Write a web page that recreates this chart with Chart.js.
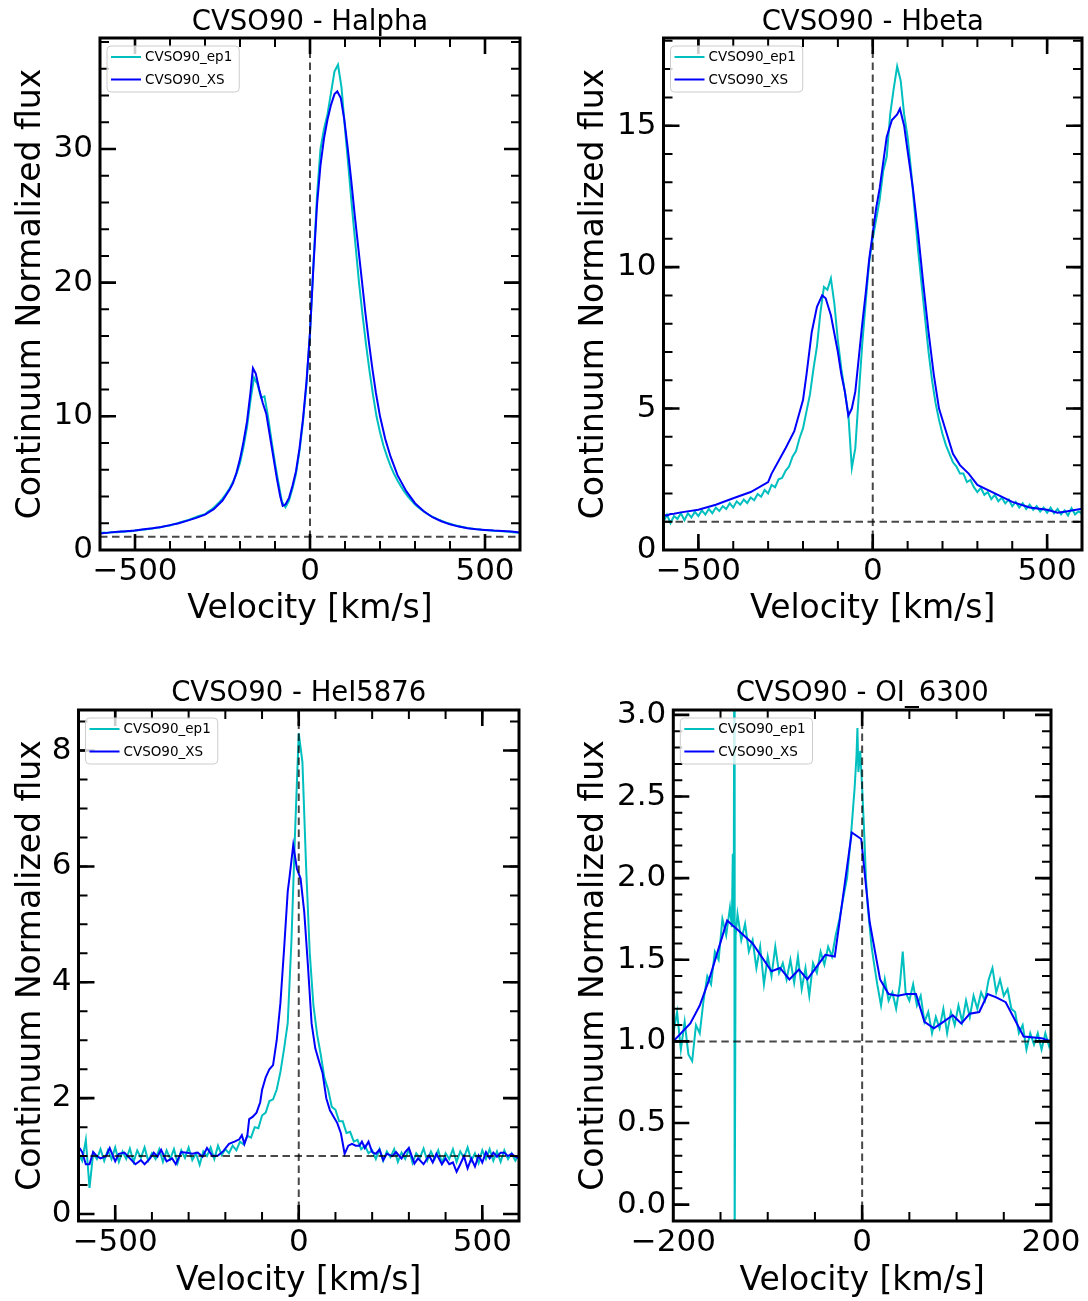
<!DOCTYPE html>
<html><head><meta charset="utf-8">
<script src="https://cdn.jsdelivr.net/npm/chart.js@4/dist/chart.umd.min.js"></script>
<style>
html,body{margin:0;padding:0;background:#fff;}
#wrap{position:relative;width:1088px;height:1301px;background:#fff;}
canvas{position:absolute;}
</style></head>
<body><div id="wrap">
<canvas id="c0" width="544" height="650" style="left:0;top:0;width:544px;height:650px"></canvas>
<canvas id="c1" width="544" height="650" style="left:544px;top:0;width:544px;height:650px"></canvas>
<canvas id="c2" width="544" height="651" style="left:0;top:650px;width:544px;height:651px"></canvas>
<canvas id="c3" width="544" height="651" style="left:544px;top:650px;width:544px;height:651px"></canvas>
</div>
<script>
// ---------------- DATA ----------------
const seriesLabels = ['CVSO90_ep1', 'CVSO90_XS'];
const panelTitles = ['CVSO90 - Halpha', 'CVSO90 - Hbeta', 'CVSO90 - HeI5876', 'CVSO90 - OI_6300'];
const xAxisLabel = 'Velocity [km/s]';
const yAxisLabel = 'Continuum Normalized flux';
const refVelocity = 0;
const refFlux = 1;

// common 10 km/s grid of the ep1 spectra (Halpha, Hbeta, HeI)
const grid10Vel = [
 -600,-590,-580,-570,-560,-550,-540,-530,-520,-510,
 -500,-490,-480,-470,-460,-450,-440,-430,-420,-410,
 -400,-390,-380,-370,-360,-350,-340,-330,-320,-310,
 -300,-290,-280,-270,-260,-250,-240,-230,-220,-210,
 -200,-190,-180,-170,-160,-150,-140,-130,-120,-110,
 -100,-90,-80,-70,-60,-50,-40,-30,-20,-10,
 0,10,20,30,40,50,60,70,80,90,
 100,110,120,130,140,150,160,170,180,190,
 200,210,220,230,240,250,260,270,280,290,
 300,310,320,330,340,350,360,370,380,390,
 400,410,420,430,440,450,460,470,480,490,
 500,510,520,530,540,550,560,570,580,590,
 600];

// Halpha
const haEp1Flux = [
 1.25,1.30,1.28,1.32,1.34,1.33,1.38,1.36,1.42,1.40,
 1.46,1.47,1.52,1.53,1.58,1.60,1.66,1.68,1.75,1.80,
 1.84,1.92,1.98,2.08,2.15,2.22,2.32,2.42,2.52,2.60,
 2.68,2.90,3.05,3.30,3.55,3.85,4.20,4.60,5.10,5.70,
 6.50,7.70,9.20,11.2,12.9,12.4,11.4,11.5,10.0,8.20,
 6.50,5.00,3.60,3.20,3.70,4.60,5.70,7.40,9.60,12.4,
 16.2,21.5,26.5,30.0,31.5,32.6,34.2,35.8,36.3,34.6,
 31.5,28.6,25.6,22.8,20.0,17.6,15.4,13.4,11.6,10.0,
 8.80,7.80,7.00,6.30,5.70,5.20,4.75,4.35,4.00,3.70,
 3.40,3.18,2.98,2.80,2.62,2.48,2.36,2.24,2.14,2.04,
 1.96,1.88,1.82,1.76,1.70,1.65,1.61,1.58,1.55,1.52,
 1.50,1.47,1.45,1.43,1.42,1.40,1.38,1.37,1.33,1.30,
 1.28];
const haXsVel = [
 -600,-575,-550,-525,-500,-475,-450,-425,-400,-375,
 -350,-325,-300,-275,-250,-230,-220,-210,-200,-190,
 -180,-170,-163,-155,-145,-135,-125,-115,-105,-95,
 -85,-78,-70,-60,-50,-40,-30,-20,-10,0,
 10,20,30,40,50,60,70,78,88,98,
 108,118,128,138,148,158,168,178,188,200,
 215,230,250,275,300,325,350,375,400,425,
 450,475,500,525,550,575,600];
const haXsFlux = [
 1.24,1.30,1.36,1.41,1.46,1.55,1.62,1.72,1.86,2.00,
 2.20,2.40,2.65,3.05,3.70,4.50,5.00,5.80,6.80,8.10,
 9.60,11.8,13.6,13.2,12.0,11.0,10.2,8.60,7.00,5.40,
 4.00,3.30,3.40,3.90,4.80,5.90,7.60,9.80,12.6,16.3,
 21.3,25.8,28.8,30.8,32.2,33.3,34.1,34.3,33.8,32.2,
 30.0,27.6,25.0,22.6,20.2,17.8,15.6,13.6,11.8,10.0,
 8.30,7.00,5.60,4.40,3.50,2.90,2.45,2.15,1.92,1.75,
 1.62,1.55,1.50,1.45,1.42,1.38,1.30];

// Hbeta
const hbEp1Flux = [
 1.00,1.25,0.95,1.20,1.10,1.30,1.05,1.30,1.15,1.35,
 1.20,1.40,1.25,1.45,1.30,1.50,1.38,1.55,1.45,1.65,
 1.50,1.72,1.60,1.78,1.66,1.86,1.76,1.98,1.88,2.12,
 2.00,2.30,2.22,2.50,2.55,2.80,2.95,3.30,3.50,3.95,
 4.30,4.90,5.50,6.40,7.20,8.40,9.30,9.20,9.60,8.70,
 7.40,6.40,5.60,4.80,2.90,3.60,5.50,7.30,8.80,10.2,
 11.0,11.7,12.4,13.4,13.9,15.4,16.3,17.1,16.6,15.4,
 14.6,13.4,12.0,10.6,9.40,8.20,7.00,6.00,5.20,4.60,
 4.10,3.70,3.40,3.10,2.95,2.70,2.70,2.40,2.48,2.22,
 2.05,2.20,1.95,2.05,1.80,1.95,1.72,1.85,1.65,1.78,
 1.55,1.70,1.50,1.65,1.45,1.60,1.42,1.55,1.36,1.50,
 1.32,1.50,1.30,1.45,1.26,1.40,1.22,1.48,1.26,1.36,
 1.30];
const hbXsVel = [
 -600,-590,-580,-570,-550,-500,-450,-400,-350,-300,
 -290,-250,-225,-200,-190,-175,-160,-145,-135,-120,
 -100,-90,-80,-70,-60,-50,-40,-30,-20,-10,
 0,10,20,30,40,55,70,78,90,100,
 115,130,145,160,175,190,210,230,250,275,
 300,350,400,450,500,530,550,600];
const hbXsFlux = [
 1.24,1.22,1.27,1.28,1.33,1.42,1.60,1.83,2.05,2.40,
 2.70,3.60,4.20,5.30,6.20,7.70,8.60,9.00,8.90,8.30,
 7.00,6.20,5.60,4.75,5.00,5.60,6.80,8.00,9.10,10.3,
 11.2,12.1,12.8,13.7,14.6,15.2,15.4,15.6,15.0,14.1,
 12.8,11.2,9.40,7.70,6.20,5.00,4.20,3.40,3.00,2.70,
 2.30,2.00,1.70,1.50,1.42,1.32,1.35,1.46];

// HeI 5876
const heEp1Flux = [
 1.05,0.92,1.28,0.45,1.05,0.95,1.12,0.92,1.10,0.95,
 1.15,0.90,1.08,0.95,1.13,0.90,1.10,0.97,1.15,0.92,
 1.05,0.95,1.12,0.90,1.10,0.95,1.12,0.88,1.10,0.97,
 1.15,0.93,1.05,0.85,1.08,1.00,1.15,0.95,1.18,1.02,
 1.12,1.05,1.18,1.10,1.25,1.20,1.35,1.32,1.50,1.48,
 1.70,1.75,1.95,1.98,2.15,2.45,2.85,3.30,4.70,6.60,
 8.30,7.80,6.00,4.50,3.60,3.10,2.75,2.35,2.15,1.85,
 1.80,1.60,1.60,1.40,1.42,1.25,1.28,1.12,1.18,1.05,
 1.10,0.95,1.12,0.92,1.08,0.98,1.12,0.90,1.06,0.95,
 1.12,0.88,1.05,0.97,1.13,0.92,1.08,0.95,1.10,0.88,
 1.05,0.95,1.12,0.90,1.08,0.97,1.15,0.92,1.05,0.88,
 1.10,0.95,1.12,0.92,1.08,0.90,1.10,0.95,1.05,0.92,
 1.02];
const heXsVel = [
 -597,-590,-580,-570,-560,-550,-540,-525,-515,-500,
 -490,-475,-460,-445,-430,-420,-405,-395,-385,-375,
 -360,-345,-335,-320,-305,-290,-275,-262,-250,-235,
 -220,-205,-190,-175,-162,-155,-148,-140,-135,-125,
 -115,-105,-100,-90,-80,-70,-60,-50,-40,-30,
 -25,-15,-5,5,15,25,35,45,55,65,
 75,85,95,105,115,125,135,145,155,165,
 172,180,190,200,210,220,230,240,255,265,
 280,290,300,315,325,340,355,365,375,390,
 400,410,420,430,440,450,460,470,480,490,
 500,510,520,530,540,550,560,570,580,590,
 598];
const heXsFlux = [
 1.14,1.07,0.86,0.86,1.07,1.00,0.96,1.00,1.14,0.91,
 1.04,1.06,0.96,0.86,0.93,0.86,0.96,1.06,0.99,1.11,
 0.91,0.96,0.86,1.07,1.06,1.04,1.06,0.99,1.14,1.00,
 1.01,1.09,1.21,1.25,1.29,1.36,1.21,1.36,1.64,1.68,
 1.75,1.93,2.14,2.36,2.50,2.57,3.00,3.64,4.57,5.57,
 5.82,6.37,5.96,5.79,5.21,4.29,3.29,2.86,2.64,2.43,
 2.00,1.79,1.68,1.57,1.39,1.04,1.18,1.21,1.18,1.18,
 1.25,1.14,1.25,1.07,1.04,1.11,0.93,1.04,1.00,1.07,
 0.96,1.07,1.14,0.87,0.96,0.86,1.01,0.89,1.04,0.86,
 0.96,0.86,0.89,0.73,0.86,1.00,0.79,0.96,0.82,1.01,
 0.89,1.07,0.96,1.06,0.99,1.06,1.06,1.00,1.04,0.99,
 0.97];

// OI 6300
const oiEp1Vel = [
 -200,-196,-192,-188,-184,-180,-176,-172,-168,-164,
 -160,-156,-152,-148,-144,-140,-138,-137,-136,-135.5,
 -135,-134,-132,-128,-124,-120,-116,-112,-108,-104,
 -100,-96,-92,-88,-84,-80,-76,-72,-68,-64,
 -60,-56,-52,-48,-44,-40,-36,-32,-28,-24,
 -20,-16,-12,-10,-8,-6,-5,-4,-2,0,
 2,4,6,8,10,12,16,20,24,28,
 32,36,40,43,46,50,54,58,62,66,
 70,74,78,82,86,90,94,98,102,106,
 110,114,118,122,126,130,134,138,142,146,
 150,154,158,162,166,170,174,178,182,186,
 190,194,198,200];
const oiEp1Flux = [
 1.05,1.18,0.95,1.12,0.92,0.88,1.10,1.05,1.25,1.40,
 1.35,1.55,1.50,1.75,1.65,1.82,1.70,2.15,1.72,3.40,
 -0.30,1.65,1.78,1.62,1.72,1.55,1.62,1.45,1.58,1.35,
 1.52,1.40,1.58,1.42,1.48,1.38,1.50,1.36,1.52,1.32,
 1.45,1.28,1.48,1.42,1.55,1.47,1.58,1.52,1.65,1.75,
 1.88,2.00,2.25,2.40,2.55,2.75,2.92,2.65,2.78,2.55,
 2.30,2.00,1.82,1.70,1.58,1.50,1.35,1.22,1.38,1.25,
 1.30,1.20,1.35,1.55,1.30,1.25,1.35,1.22,1.28,1.12,
 1.18,1.05,1.15,1.08,1.20,1.05,1.18,1.10,1.22,1.12,
 1.25,1.15,1.28,1.20,1.30,1.25,1.38,1.45,1.30,1.38,
 1.28,1.32,1.20,1.18,1.05,1.10,0.95,1.05,0.98,1.05,
 0.95,1.05,0.97,1.02];
const oiXsVel = [
 -200,-182,-172,-162,-143,-131,-116,-96,-87,-77,
 -67,-58,-39,-29,-11,-1,8,19,28,38,
 47,57,66,76,86,96,105,114,124,133,
 142,152,171,190,200];
const oiXsFlux = [
 1.00,1.11,1.22,1.38,1.74,1.68,1.60,1.43,1.45,1.38,
 1.44,1.38,1.53,1.52,2.28,2.24,1.73,1.38,1.29,1.28,
 1.29,1.29,1.12,1.08,1.12,1.16,1.11,1.17,1.18,1.29,
 1.27,1.24,1.03,1.02,1.00];

// axis limits and tick labels
const xLimits = [[-600, 600], [-600, 600], [-600, 600], [-200, 200]];
const yLimits = [[0, 38.3], [0, 18.1], [-0.12, 8.7], [-0.1, 3.03]];
const xMajorTicks = [[-500, 0, 500], [-500, 0, 500], [-500, 0, 500], [-200, 0, 200]];
const xMinorStep = [100, 100, 100, 50];
const yMajorTicks = [[0, 10, 20, 30], [0, 5, 10, 15], [0, 2, 4, 6, 8], [0, 0.5, 1, 1.5, 2, 2.5, 3]];
const yMinorStep = [2, 1, 0.5, 0.1];
const yDecimals = [0, 0, 0, 1];

// ---------------- STYLE / LAYOUT ----------------
const FONT = "'DejaVu Sans', 'Liberation Sans', sans-serif";
const CYAN = '#00BFBF', BLUE = '#0000FF', DASH = 'rgba(0,0,0,0.72)';
const panels = [
  {id: 'c0', area: {l: 100, r: 520, b: 550}, titlePad: {top: 9.25, bottom: 1.25}, yTitlePad: 12, xTitlePad: 21},
  {id: 'c1', area: {l: 119.5, r: 538, b: 550}, titlePad: {top: 9.25, bottom: 1.25}, yTitlePad: 31, xTitlePad: 21},
  {id: 'c2', area: {l: 78.5, r: 519, b: 571}, titlePad: {top: 30.25, bottom: 2.25}, yTitlePad: 12, xTitlePad: 0},
  {id: 'c3', area: {l: 129.3, r: 507, b: 571}, titlePad: {top: 30.25, bottom: 2.25}, yTitlePad: 31, xTitlePad: 0}
];
const seriesData = [
  [[grid10Vel, haEp1Flux], [haXsVel, haXsFlux]],
  [[grid10Vel, hbEp1Flux], [hbXsVel, hbXsFlux]],
  [[grid10Vel, heEp1Flux], [heXsVel, heXsFlux]],
  [[oiEp1Vel, oiEp1Flux], [oiXsVel, oiXsFlux]]
];

const pts = (xs, ys) => xs.map((x, i) => ({x: x, y: ys[i]}));
const stepsBetween = (lo, hi, step) => {
  const out = [];
  const n0 = Math.ceil(lo / step - 1e-9), n1 = Math.floor(hi / step + 1e-9);
  for (let n = n0; n <= n1; n++) out.push(+(n * step).toFixed(6));
  return out;
};
const fmtNum = (v, d) => {
  const s = Math.abs(v).toFixed(d);
  return (v < 0 ? '\u2212' : '') + s;
};

const frameTicksPlugin = {
  id: 'frameTicks',
  afterDatasetsDraw(chart, args, o) {
    const {ctx, chartArea: a, scales: {x, y}} = chart;
    ctx.save();
    ctx.strokeStyle = '#000';
    ctx.lineCap = 'butt';
    const drawX = (vals, len, lw) => {
      ctx.lineWidth = lw; ctx.beginPath();
      vals.forEach(v => {
        const px = x.getPixelForValue(v);
        if (px < a.left + 1 || px > a.right - 1) return;
        ctx.moveTo(px, a.bottom); ctx.lineTo(px, a.bottom - len);
        ctx.moveTo(px, a.top); ctx.lineTo(px, a.top + len);
      });
      ctx.stroke();
    };
    const drawY = (vals, len, lw) => {
      ctx.lineWidth = lw; ctx.beginPath();
      vals.forEach(v => {
        const py = y.getPixelForValue(v);
        if (py < a.top + 1 || py > a.bottom - 1) return;
        ctx.moveTo(a.left, py); ctx.lineTo(a.left + len, py);
        ctx.moveTo(a.right, py); ctx.lineTo(a.right - len, py);
      });
      ctx.stroke();
    };
    drawX(o.xMinor, 9, 2);
    drawX(o.xMajor, 16, 2.6);
    drawY(o.yMinor, 9, 2);
    drawY(o.yMajor, 16, 2.6);
    ctx.lineWidth = 3;
    ctx.strokeRect(a.left, a.top, a.right - a.left, a.bottom - a.top);
    ctx.restore();
  }
};

const boxLegendPlugin = {
  id: 'boxLegend',
  afterDraw(chart) {
    const {ctx, chartArea: a} = chart;
    const items = chart.data.datasets.filter(d => !d.label.startsWith('_'));
    ctx.save();
    ctx.font = '13.5px ' + FONT;
    const tw = Math.max(...items.map(d => ctx.measureText(d.label).width));
    const x0 = a.left + 7, y0 = a.top + 8;
    const w = 38 + tw + 7, h = 46, r = 4;
    ctx.beginPath();
    ctx.moveTo(x0 + r, y0);
    ctx.arcTo(x0 + w, y0, x0 + w, y0 + h, r);
    ctx.arcTo(x0 + w, y0 + h, x0, y0 + h, r);
    ctx.arcTo(x0, y0 + h, x0, y0, r);
    ctx.arcTo(x0, y0, x0 + w, y0, r);
    ctx.closePath();
    ctx.fillStyle = 'rgba(255,255,255,0.8)';
    ctx.fill();
    ctx.strokeStyle = '#cccccc';
    ctx.lineWidth = 1;
    ctx.stroke();
    items.forEach((d, i) => {
      const yy = y0 + 11 + i * 22.5;
      ctx.strokeStyle = d.borderColor;
      ctx.lineWidth = 2;
      ctx.beginPath(); ctx.moveTo(x0 + 4, yy); ctx.lineTo(x0 + 34, yy); ctx.stroke();
      ctx.fillStyle = '#000';
      ctx.textBaseline = 'middle';
      ctx.textAlign = 'left';
      ctx.fillText(d.label, x0 + 38, yy + 0.5);
    });
    ctx.restore();
  }
};

Chart.defaults.font.family = FONT;
Chart.defaults.color = '#000';

panels.forEach((p, k) => {
  const cv = document.getElementById(p.id);
  const W = cv.width, H = cv.height;
  const [xMin, xMax] = xLimits[k];
  const [yMin, yMax] = yLimits[k];
  const lineDs = (label, data, color, order, dash) => ({
    label, data, borderColor: color, backgroundColor: color, borderWidth: 2,
    pointRadius: 0, pointHoverRadius: 0, fill: false, tension: 0, order,
    borderDash: dash || []
  });
  new Chart(cv, {
    type: 'line',
    data: {
      datasets: [
        lineDs(seriesLabels[0], pts(seriesData[k][0][0], seriesData[k][0][1]), CYAN, 2),
        lineDs(seriesLabels[1], pts(seriesData[k][1][0], seriesData[k][1][1]), BLUE, 1),
        lineDs('_refFlux', pts([xMin, xMax], [refFlux, refFlux]), DASH, 0, [7.5, 4.5]),
        lineDs('_refVel', pts([refVelocity, refVelocity], [yMin, yMax]), DASH, 0, [7.5, 4.5])
      ]
    },
    options: {
      responsive: false, animation: false, devicePixelRatio: 1,
      events: [],
      layout: {padding: {left: 0, right: W - p.area.r, top: 0, bottom: 0}},
      plugins: {
        legend: {display: false},
        tooltip: {enabled: false},
        title: {display: true, text: panelTitles[k], fullSize: false, color: '#000',
                font: {family: FONT, size: 27.5, weight: 'normal', lineHeight: 1.0},
                padding: p.titlePad},
        frameTicks: {
          xMajor: xMajorTicks[k], xMinor: stepsBetween(xMin, xMax, xMinorStep[k]),
          yMajor: yMajorTicks[k], yMinor: stepsBetween(yMin, yMax, yMinorStep[k])
        }
      },
      scales: {
        x: {
          type: 'linear', min: xMin, max: xMax,
          afterFit: s => { s.height = H - p.area.b; },
          afterBuildTicks: s => { s.ticks = xMajorTicks[k].map(v => ({value: v})); },
          grid: {display: false, drawTicks: false}, border: {display: false},
          ticks: {autoSkip: false, maxRotation: 0, minRotation: 0, padding: 3, color: '#000',
                  font: {family: FONT, size: 31}, callback: v => fmtNum(v, 0)},
          title: {display: true, text: xAxisLabel, color: '#000',
                  font: {family: FONT, size: 33, lineHeight: 1.2}, padding: {top: 0, bottom: p.xTitlePad}}
        },
        y: {
          type: 'linear', min: yMin, max: yMax,
          afterFit: s => { s.width = p.area.l; },
          afterBuildTicks: s => { s.ticks = yMajorTicks[k].map(v => ({value: v})); },
          grid: {display: false, drawTicks: false}, border: {display: false},
          ticks: {autoSkip: false, padding: 7, color: '#000',
                  font: {family: FONT, size: 31}, callback: v => fmtNum(v, yDecimals[k])},
          title: {display: true, text: yAxisLabel, color: '#000',
                  font: {family: FONT, size: 33, lineHeight: 1.2}, padding: {top: p.yTitlePad, bottom: 0}}
        }
      }
    },
    plugins: [frameTicksPlugin, boxLegendPlugin]
  });
});
</script>
</body></html>
